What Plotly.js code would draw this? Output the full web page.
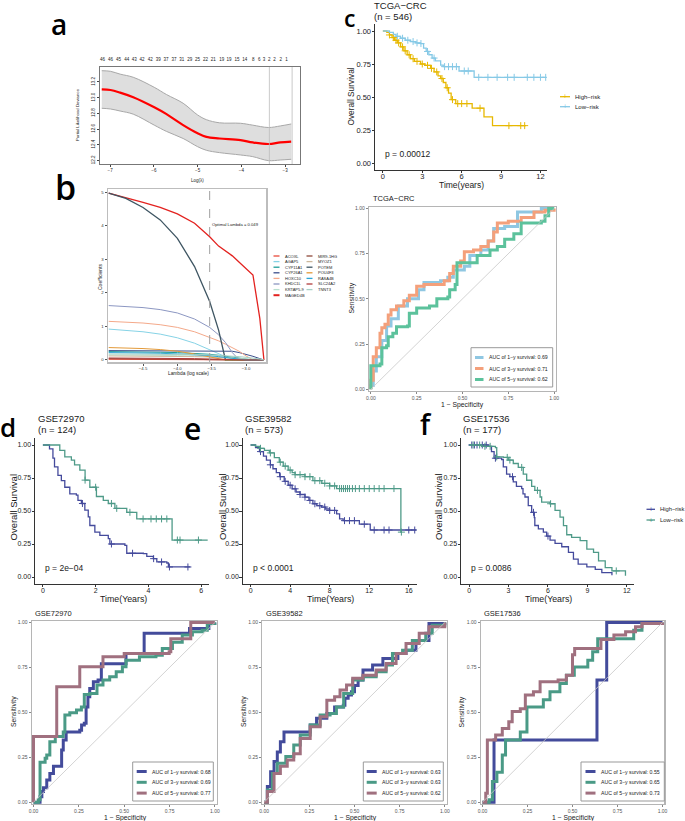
<!DOCTYPE html>
<html>
<head>
<meta charset="utf-8">
<script src="https://cdn.plot.ly/plotly-3.0.1.min.js"></script>
<style>html,body{margin:0;padding:0;background:#fff}#fig{width:685px;height:821px}</style>
</head>
<body>
<div id="fig"></div>
<script>
// ---- panel a : cross-validation curve
const lamA = [-7.19,-6.99,-6.77,-6.47,-5.99,-5.71,-5.33,-5.0,-4.8,-4.5,-4.02,-3.74,-3.38,-3.11,-2.86];
const devA = [13.107,13.098,13.064,13.005,12.877,12.79,12.65,12.546,12.50,12.48,12.46,12.43,12.41,12.43,12.44];
const upA  = [13.344,13.336,13.30,13.26,13.132,13.04,12.929,12.78,12.72,12.68,12.674,12.65,12.62,12.64,12.665];
const loA  = [12.865,12.856,12.83,12.79,12.65,12.57,12.48,12.376,12.33,12.30,12.27,12.249,12.198,12.206,12.215];
const lamTop = [-7.175,-6.99,-6.81,-6.62,-6.45,-6.27,-6.08,-5.90,-5.72,-5.54,-5.36,-5.18,-5.0,-4.82,-4.64,-4.45,-4.28,-4.10,-3.92,-3.73,-3.59,-3.48,-3.36,-3.24,-3.10,-2.97];
const nzTop = ['46','46','45','44','43','42','42','39','37','37','31','29','25','22','21','19','19','15','14','8','6','3','2','2','2','1'];
const lamMin = -3.36, lam1se = -2.84;

// ---- panel b : coefficient paths
const lamB = [-5.0,-4.75,-4.5,-4.25,-4.0,-3.75,-3.53,-3.4,-3.3,-3.2,-3.1,-3.0,-2.9,-2.8,-2.74];
const genesB = ['ACOXL','AGAP5','CYP11A1','CYP26A1','HOXC10','KHDC1L','KRTAP5-9','MAGED4B','MIR9-1HG','MYOZ1','POTEM','POU4F3','RASA4B','SLC24A2','TNNT3'];
const colorsB = ['#E8493A','#86D3E6','#1E9E98','#3C4F8C','#F4A98A','#8C97C2','#B9E0CF','#E3221F','#8E4A3A','#CDB99C','#3E5562','#E39A3A','#2BA6D6','#B03C3C','#A7D1C6'];
const coefB = [
  [0.02,0.02,0.02,0.02,0.01,0.01,0,0,0,0,0,0,0,0,0],
  [0.92,0.89,0.84,0.77,0.66,0.50,0.30,0.18,0.10,0.03,0,0,0,0,0],
  [0.25,0.25,0.24,0.23,0.22,0.20,0.17,0.14,0.11,0.08,0.05,0.02,0,0,0],
  [0.28,0.28,0.28,0.28,0.28,0.28,0.28,0.28,0.28,0.26,0.22,0.17,0.11,0.04,0],
  [1.15,1.13,1.10,1.05,0.97,0.84,0.68,0.57,0.47,0.37,0.26,0.12,0,0,0],
  [1.62,1.60,1.56,1.50,1.40,1.22,0.97,0.75,0.52,0.22,0,0,0,0,0],
  [0.15,0.15,0.14,0.14,0.13,0.12,0.11,0.09,0.08,0.06,0.04,0.02,0,0,0],
  [4.97,4.84,4.69,4.54,4.35,4.07,3.67,3.39,3.25,3.10,2.91,2.72,2.53,1.24,0],
  [0.04,0.04,0.04,0.03,0.03,0.02,0.01,0,0,0,0,0,0,0,0],
  [0.12,0.12,0.12,0.11,0.11,0.10,0.09,0.08,0.06,0.05,0.03,0.01,0,0,0],
  [4.97,4.81,4.54,4.17,3.62,2.78,1.74,0.89,0,0,0,0,0,0,0],
  [0.37,0.36,0.34,0.31,0.26,0.18,0.10,0.05,0,0,0,0,0,0,0],
  [0.22,0.22,0.21,0.20,0.18,0.16,0.13,0.10,0.07,0.04,0.01,0,0,0,0],
  [0.06,0.06,0.06,0.05,0.05,0.04,0.03,0.02,0.01,0,0,0,0,0,0],
  [0.18,0.18,0.18,0.17,0.17,0.16,0.15,0.14,0.13,0.12,0.10,0.08,0.06,0.03,0]
];
const lamOpt = -3.53;

// ---- panel c : TCGA-CRC
const cHighT = [0,0.3,0.5,0.7,0.9,1.1,1.35,1.6,1.85,2.1,2.4,2.87,3.2,3.64,3.9,4.2,4.4,4.6,4.8,5.0,5.2,5.55,6.8,7.7,8.35,10.9];
const cHighS = [1,0.99,0.97,0.95,0.93,0.91,0.88,0.85,0.82,0.79,0.77,0.75,0.74,0.717,0.69,0.66,0.64,0.61,0.57,0.53,0.48,0.45,0.415,0.35,0.283,0.283];
const cHighCens = [0.5,0.8,1.0,1.2,1.5,1.7,2.0,2.3,2.6,3.0,3.4,3.7,4.1,4.5,4.9,5.3,5.7,6.0,6.4,7.4,9.6,10.5,10.8];
const cLowT = [0,0.5,0.8,1.0,1.35,1.7,2.1,2.5,2.87,3.1,3.3,3.5,3.75,4.0,4.4,4.6,5.8,6.95,12.4];
const cLowS = [1,0.99,0.975,0.96,0.945,0.93,0.92,0.91,0.905,0.87,0.845,0.82,0.795,0.773,0.742,0.73,0.697,0.649,0.649];
const cLowCens = [1.1,1.5,1.9,2.3,2.6,2.9,3.4,3.9,4.7,5.0,5.3,5.6,6.2,6.5,7.3,8.0,8.7,9.5,10.0,11.0,11.5,12.0,12.4];
const cRoc1x = [0,0,0.013,0.03,0.06,0.086,0.11,0.15,0.2,0.26,0.29,0.38,0.42,0.45,0.51,0.54,0.6,0.64,0.67,0.73,0.8,0.93,1];
const cRoc1y = [0,0.02,0.10,0.18,0.27,0.35,0.39,0.46,0.50,0.55,0.59,0.60,0.62,0.66,0.68,0.74,0.77,0.82,0.89,0.90,0.98,1,1];
const cRoc3x = [0,0,0.013,0.03,0.05,0.06,0.077,0.095,0.11,0.14,0.18,0.21,0.25,0.29,0.36,0.40,0.43,0.45,0.49,0.51,0.56,0.60,0.64,0.67,0.69,0.75,0.82,0.89,0.95,1];
const cRoc3y = [0,0.05,0.18,0.23,0.31,0.34,0.36,0.41,0.44,0.46,0.49,0.52,0.57,0.58,0.58,0.60,0.64,0.68,0.71,0.76,0.77,0.79,0.82,0.87,0.92,0.93,0.95,0.98,0.99,1];
const cRoc5x = [0,0,0.05,0.06,0.086,0.095,0.12,0.14,0.2,0.21,0.25,0.32,0.36,0.42,0.43,0.46,0.47,0.55,0.58,0.65,0.69,0.73,0.78,0.82,0.93,0.95,0.97,1];
const cRoc5y = [0,0.13,0.14,0.23,0.24,0.29,0.31,0.345,0.35,0.42,0.45,0.46,0.50,0.51,0.55,0.58,0.70,0.70,0.74,0.77,0.79,0.83,0.86,0.92,0.93,0.96,1,1];
const cAuc = ['0.69','0.71','0.62'];

// ---- panel d : GSE72970
const dHighT = [0,0.19,0.25,0.38,0.44,0.57,0.7,0.83,1.02,1.27,1.33,1.46,1.59,1.72,1.78,1.97,2.16,2.48,2.54,3.11,3.18,3.81,3.94,4.19,4.32,4.7,4.76,5.59];
const dHighS = [1,1,0.97,0.90,0.835,0.77,0.73,0.68,0.63,0.62,0.58,0.557,0.506,0.456,0.39,0.34,0.316,0.29,0.25,0.24,0.18,0.177,0.157,0.139,0.114,0.106,0.076,0.076];
const dHighCens = [1.5,2.6,3.4,4.2,4.5,4.8,5.5];
const dLowT = [0,0.38,0.64,0.83,1.08,1.2,1.4,1.6,1.78,2.03,2.29,2.48,2.73,3.18,3.56,4.9,6.25];
const dLowS = [1,1,0.96,0.91,0.886,0.85,0.81,0.734,0.68,0.61,0.58,0.557,0.52,0.49,0.44,0.28,0.28];
const dLowCens = [1.6,2.0,2.6,2.8,3.3,3.8,4.1,4.3,4.5,4.7,5.1,5.2,5.9];
const dRoc1x = [0,0.027,0.036,0.046,0.055,0.073,0.09,0.11,0.146,0.155,0.164,0.18,0.255,0.265,0.28,0.29,0.30,0.31,0.33,0.356,0.374,0.5,0.51,0.6,0.61,0.85,0.86,0.95,0.967,1];
const dRoc1y = [0,0,0.03,0.06,0.08,0.124,0.16,0.2,0.2,0.29,0.346,0.39,0.40,0.43,0.44,0.53,0.587,0.633,0.67,0.68,0.77,0.77,0.828,0.828,0.94,0.94,0.967,0.967,0.994,1];
const dRoc3x = [0,0.027,0.036,0.064,0.073,0.09,0.12,0.164,0.173,0.2,0.237,0.264,0.28,0.31,0.35,0.383,0.42,0.456,0.49,0.51,0.584,0.675,0.71,0.766,0.82,0.876,0.93,0.958,1];
const dRoc3y = [0,0.013,0.222,0.244,0.263,0.337,0.365,0.39,0.485,0.498,0.513,0.53,0.6,0.605,0.652,0.68,0.698,0.726,0.754,0.79,0.81,0.818,0.855,0.89,0.93,0.948,0.957,0.994,1];
const dRoc5x = [0,0,0.12,0.128,0.246,0.255,0.374,0.383,0.49,0.5,0.748,0.757,0.858,0.867,1];
const dRoc5y = [0,0.365,0.365,0.643,0.643,0.754,0.754,0.81,0.81,0.828,0.837,0.91,0.91,1,1];
const dAuc = ['0.68','0.69','0.77'];

// ---- panel e : GSE39582
const eHighT = [0,0.5,0.9,1.3,1.6,2.0,2.26,2.6,2.94,3.4,3.8,4.2,4.6,5.0,5.5,5.9,6.3,6.7,7.16,7.6,8.0,8.7,9.0,9.36,11.0,12.1,16.8];
const eHighS = [1,0.98,0.95,0.915,0.885,0.85,0.82,0.79,0.76,0.725,0.695,0.668,0.644,0.625,0.605,0.58,0.555,0.54,0.53,0.515,0.504,0.478,0.44,0.427,0.40,0.356,0.356];
const eHighCens = [1.0,2.0,3.0,3.5,4.0,4.5,5.0,5.5,6.0,6.5,7.0,7.5,8.0,8.5,9.5,10.0,10.5,11.5,12.5,13.5,14.0,16.0,16.6];
const eLowT = [0,0.5,0.9,1.4,1.9,2.4,2.9,3.3,3.8,4.2,4.5,5.5,6.3,7.2,8.0,8.7,15.2,15.25];
const eLowS = [1,0.99,0.975,0.96,0.94,0.905,0.87,0.84,0.81,0.79,0.775,0.76,0.73,0.71,0.69,0.67,0.34,0.34];
const eLowCens = [1.0,2.0,3.0,3.5,4.0,4.5,5.0,5.5,6.0,6.5,7.0,7.5,8.0,8.5,9.0,9.2,9.4,9.6,9.8,10.0,10.3,10.6,11.0,11.5,12.0,12.5,13.0,13.5,14.5,15.25];
const eRoc1x = [0,0.018,0.036,0.055,0.073,0.09,0.11,0.237,0.255,0.29,0.347,0.383,0.39,0.438,0.447,0.465,0.483,0.5,0.52,0.547,0.584,0.6,0.657,0.73,0.74,0.785,0.84,0.894,0.912,1];
const eRoc1y = [0,0.087,0.17,0.226,0.28,0.337,0.39,0.39,0.43,0.467,0.494,0.494,0.53,0.54,0.578,0.596,0.615,0.65,0.68,0.735,0.735,0.763,0.8,0.8,0.828,0.846,0.9,0.9,0.994,1];
const eRoc3x = [0,0.018,0.046,0.073,0.12,0.164,0.2,0.255,0.31,0.365,0.4,0.44,0.49,0.547,0.62,0.675,0.71,0.766,0.82,0.894,0.93,1];
const eRoc3y = [0,0.068,0.16,0.217,0.254,0.318,0.374,0.43,0.485,0.494,0.53,0.605,0.68,0.698,0.726,0.763,0.828,0.846,0.9,0.94,0.985,1];
const eRoc5x = [0,0.018,0.055,0.09,0.128,0.164,0.2,0.255,0.31,0.347,0.39,0.42,0.456,0.49,0.547,0.62,0.675,0.73,0.785,0.858,0.912,1];
const eRoc5y = [0,0.06,0.16,0.2,0.235,0.27,0.355,0.42,0.476,0.568,0.587,0.624,0.652,0.69,0.707,0.735,0.772,0.828,0.883,0.94,0.976,1];
const eAuc = ['0.63','0.63','0.62'];

// ---- panel f : GSE17536
const fHighT = [0,1.45,1.7,1.9,2.47,2.6,2.85,3.1,3.36,3.6,4.0,4.1,4.25,4.5,4.76,4.96,5.0,5.27,5.65,5.9,6.16,6.54,7.05,7.56,7.94,8.3,8.96,9.6,10.1,10.87];
const fHighS = [1,0.99,0.95,0.90,0.89,0.835,0.78,0.76,0.72,0.687,0.67,0.63,0.606,0.54,0.49,0.45,0.39,0.364,0.34,0.31,0.28,0.254,0.229,0.186,0.135,0.097,0.076,0.058,0.033,0.013];
const fHighCens = [0.2,0.4,0.6,1.0,1.3,2.0,3.3,4.9,6.0];
const fLowT = [0,0.94,2.0,2.1,2.6,2.98,3.36,3.74,4.12,4.38,4.76,5.0,5.4,5.52,6.16,6.54,6.92,7.18,7.43,7.8,8.45,8.96,9.47,9.85,10.36,10.87,11.9,11.9];
const fLowS = [1,0.99,0.98,0.91,0.906,0.886,0.86,0.83,0.78,0.733,0.687,0.656,0.606,0.567,0.555,0.504,0.453,0.389,0.32,0.30,0.275,0.211,0.186,0.122,0.071,0.046,0.046,0.01];
const fLowCens = [0.3,0.8,1.2,1.6,2.1,2.9,3.1,4.0,5.2,6.2,11.2];
const fRoc1x = [0,0.064,0.064,0.63,0.636,0.686,0.69,1];
const fRoc1y = [0,0,0.346,0.346,0.68,0.68,1,1];
const fRoc3x = [0,0.037,0.055,0.08,0.11,0.128,0.2,0.21,0.247,0.338,0.375,0.43,0.466,0.51,0.585,0.612,0.64,0.81,0.84,0.886,1];
const fRoc3y = [0,0.013,0.115,0.167,0.263,0.346,0.346,0.39,0.53,0.57,0.615,0.66,0.707,0.753,0.79,0.837,0.91,0.91,0.957,0.994,1];
const fRoc5x = [0,0.018,0.027,0.073,0.11,0.146,0.165,0.21,0.238,0.283,0.32,0.42,0.466,0.5,0.512,0.63,0.658,0.73,0.795,0.85,0.886,1];
const fRoc5y = [0,0.05,0.346,0.374,0.41,0.448,0.505,0.52,0.596,0.615,0.67,0.68,0.707,0.82,0.855,0.855,0.905,0.93,0.948,0.976,0.994,1];
const fAuc = ['0.55','0.65','0.73'];

const rocYears = ['1', '3', '5'];
const groups = ['High−risk', 'Low−risk'];

// colours
const GOLD = '#E7B800', SKY = '#86C9E6';
const NAVY = '#444A9C', TEAL = '#4E9A88';
const cRocCols = ['#8FC7E2', '#F4A07B', '#5CC29C'];
const gRocCols = ['#434B9B', '#4A9A86', '#A0707F'];

const FONT = 'Liberation Sans, Arial, sans-serif';
const W = 685, H = 821;
const px = v => v / W, py = v => 1 - v / H;

const traces = [], shapes = [], annotations = [];
const layout = {
  width: W, height: H, margin: {l: 0, r: 0, t: 0, b: 0},
  paper_bgcolor: '#fff', plot_bgcolor: 'rgba(0,0,0,0)',
  showlegend: false, font: {family: FONT}
};

function ax(n) { return n === 1 ? '' : String(n); }

function addLine(x, y, n, color, width, shape) {
  traces.push({x, y, xaxis: 'x' + ax(n), yaxis: 'y' + ax(n), type: 'scatter', mode: 'lines',
    line: {color, width, shape: shape || 'linear'}, hoverinfo: 'skip', showlegend: false});
}

function survAt(ts, ss, t) {
  let s = ss[0];
  for (let i = 0; i < ts.length; i++) if (ts[i] <= t) s = ss[i];
  return s;
}

function addKM(ts, ss, cens, n, color) {
  addLine(ts, ss, n, color, 1.3, 'hv');
  traces.push({x: cens, y: cens.map(t => survAt(ts, ss, t)), xaxis: 'x' + ax(n), yaxis: 'y' + ax(n),
    type: 'scatter', mode: 'markers', hoverinfo: 'skip', showlegend: false,
    marker: {symbol: 'cross-thin', size: 5, color, line: {width: 1, color}}});
}

function txt(x, y, t, size, extra) {
  annotations.push(Object.assign({xref: 'paper', yref: 'paper', x: px(x), y: py(y), text: t, showarrow: false,
    xanchor: 'left', yanchor: 'middle', font: {family: FONT, size, color: '#1a1a1a'}}, extra || {}));
}

function vtxt(x, y, t, size) {
  txt(x, y, t, size, {xanchor: 'center', textangle: -90});
}

function setAxes(n, x0, x1, y0, y1, xopt, yopt) {
  layout['xaxis' + ax(n)] = Object.assign({domain: [px(x0), px(x1)], anchor: 'y' + ax(n),
    showgrid: false, zeroline: false, fixedrange: true}, xopt);
  layout['yaxis' + ax(n)] = Object.assign({domain: [py(y1), py(y0)], anchor: 'x' + ax(n),
    showgrid: false, zeroline: false, fixedrange: true}, yopt);
}

function kmStyle(range, vals, size) {
  return {range, tickvals: vals, ticks: 'outside', ticklen: 2.5, tickcolor: '#333', tickwidth: 1,
    ticklabelstandoff: -3,
    showline: true, linecolor: '#333', linewidth: 1, tickfont: {family: FONT, size: size || 7, color: '#222'}};
}

function rocStyle() {
  return {range: [-0.01, 1.01], tickvals: [0, 0.25, 0.5, 0.75, 1], tickformat: '.2f', ticks: 'outside',
    ticklen: 2, tickcolor: '#888', showline: true, mirror: true, linecolor: '#b5b5b5', linewidth: 1.2,
    tickfont: {family: FONT, size: 5, color: '#555'}};
}

function legendRows(items, x0, y0, dy, seg, size, width, plus) {
  items.forEach((it, i) => {
    const yy = y0 + i * dy;
    shapes.push({type: 'line', xref: 'paper', yref: 'paper', x0: px(x0), x1: px(x0 + seg), y0: py(yy), y1: py(yy),
      line: {color: it.color, width: it.width || width}});
    if (plus) txt(x0 + seg / 2, yy, '+', size + 1, {xanchor: 'center', font: {family: FONT, size: size + 1, color: it.color}});
    txt(x0 + seg + 3, yy, it.name, size);
  });
}

function box(x0, y0, x1, y1) {
  shapes.push({type: 'rect', xref: 'paper', yref: 'paper', x0: px(x0), x1: px(x1), y0: py(y1), y1: py(y0),
    line: {color: '#999', width: 1}, fillcolor: '#fff'});
}

// ================= panel a
setAxes(1, 100, 300, 67, 164,
  {range: [-7.23, -2.66], tickvals: [-7, -6, -5, -4, -3], ticks: 'outside', ticklen: 2, tickcolor: '#444',
   showline: true, mirror: true, linecolor: '#777', linewidth: 1, tickfont: {family: FONT, size: 4.5, color: '#222'}},
  {range: [12.155, 13.391], tickvals: [12.2, 12.4, 12.6, 12.8, 13.0, 13.2], tickformat: '.1f', tickangle: -90,
   ticks: 'outside', ticklen: 2, tickcolor: '#444', showline: true, mirror: true, linecolor: '#777', linewidth: 1,
   tickfont: {family: FONT, size: 4.5, color: '#222'}});
layout.xaxis2 = {overlaying: 'x', side: 'top', anchor: 'y', range: [-7.23, -2.66], tickvals: lamTop, ticktext: nzTop,
  tickangle: 0, ticks: 'outside', ticklen: 3, tickcolor: 'rgba(0,0,0,0)', showline: false, showgrid: false, zeroline: false,
  tickfont: {family: FONT, size: 4.5, color: '#222'}, fixedrange: true};
traces.push({x: lamA, y: loA, xaxis: 'x', yaxis: 'y', type: 'scatter', mode: 'lines',
  line: {color: '#a8a8a8', width: 1, shape: 'spline'}, hoverinfo: 'skip', showlegend: false});
traces.push({x: lamA, y: upA, xaxis: 'x', yaxis: 'y', type: 'scatter', mode: 'lines', fill: 'tonexty',
  fillcolor: '#dedede', line: {color: '#a8a8a8', width: 1, shape: 'spline'}, hoverinfo: 'skip', showlegend: false});
traces.push({x: lamA, y: devA, xaxis: 'x', yaxis: 'y', type: 'scatter', mode: 'lines',
  line: {color: '#f00', width: 2.2, shape: 'spline'}, hoverinfo: 'skip', showlegend: false});
traces.push({x: [lamTop[0]], y: [null], xaxis: 'x2', yaxis: 'y', type: 'scatter', mode: 'lines', showlegend: false, hoverinfo: 'skip'});
[lamMin, lam1se].forEach(v => shapes.push({type: 'line', xref: 'x', yref: 'y domain', x0: v, x1: v, y0: 0, y1: 1,
  line: {color: '#bdbdbd', width: 0.8}}));
vtxt(78, 115, 'Partial Likelihood Deviance', 4.3);
txt(197, 180, 'Log(λ)', 4.5, {xanchor: 'center'});

// ================= panel b
setAxes(3, 108, 266, 189, 362,
  {range: [-5.01, -2.71], tickvals: [-4.5, -4, -3.5, -3], tickformat: '.1f', ticks: 'outside', ticklen: 2,
   tickcolor: '#555', showline: true, mirror: true, linecolor: '#bdbdbd', linewidth: 1.5, ticklabelstandoff: -1,
   tickfont: {family: FONT, size: 4.3, color: '#333'}},
  {range: [-0.06, 5.09], tickvals: [0, 1, 2, 3, 4, 5], ticks: 'outside', ticklen: 2, tickcolor: '#555',
   showline: true, mirror: true, linecolor: '#bdbdbd', linewidth: 1.5, tickfont: {family: FONT, size: 4.3, color: '#333'}});
genesB.forEach((g, i) => addLine(lamB, coefB[i], 3, colorsB[i], (g === 'MAGED4B' || g === 'POTEM') ? 1.3 : 1));
shapes.push({type: 'line', xref: 'x3', yref: 'y3 domain', x0: lamOpt, x1: lamOpt, y0: 0, y1: 1,
  line: {color: '#a0a0a0', width: 1, dash: 'dash'}});
annotations.push({xref: 'x3', yref: 'y3', x: lamOpt, y: 4.02, text: 'Optimal Lambda = 0.049', showarrow: false,
  xanchor: 'left', yanchor: 'middle', font: {family: FONT, size: 4.2, color: '#222'}});
vtxt(100, 276, 'Coefficients', 5);
txt(188, 373, 'Lambda (log scale)', 4.8, {xanchor: 'center'});
legendRows(genesB.slice(0, 8).map((g, i) => ({name: g, color: colorsB[i], width: g === 'MAGED4B' ? 2 : 1.3})),
  273.5, 256, 5.6, 6, 4, 1.3);
legendRows(genesB.slice(8).map((g, i) => ({name: g, color: colorsB[i + 8]})), 306.5, 256, 5.6, 6, 4, 1.3);

// ================= panel c (KM)
setAxes(4, 375, 547, 24.4, 169.6,
  kmStyle([-0.6, 12.5], [0, 3, 6, 9, 12], 7.5),
  Object.assign(kmStyle([-0.05, 1.05], [0, 0.25, 0.5, 0.75, 1], 7.5), {tickformat: '.2f', ticklabelstandoff: -1}));
addKM(cHighT, cHighS, cHighCens, 4, GOLD);
addKM(cLowT, cLowS, cLowCens, 4, SKY);
txt(372, 6, 'TCGA−CRC', 9.5);
txt(372, 17, '(n = 546)', 9.5);
vtxt(350.5, 97, 'Overall Survival', 8.3);
txt(461, 185, 'Time(years)', 8.5, {xanchor: 'center'});
annotations.push({xref: 'x4', yref: 'y4', x: 0, y: 0.07, text: 'p = 0.00012', showarrow: false, xanchor: 'left',
  yanchor: 'middle', font: {family: FONT, size: 8.5, color: '#1a1a1a'}});
legendRows([{name: groups[0], color: GOLD}, {name: groups[1], color: SKY}], 560, 96.7, 10, 10, 6, 1.3, true);

// ================= panel c (ROC)
setAxes(5, 369, 556, 206.7, 391, rocStyle(), rocStyle());
shapes.push({type: 'line', xref: 'x5', yref: 'y5', x0: 0, y0: 0, x1: 1, y1: 1, line: {color: '#c8c8c8', width: 0.8}});
addLine(cRoc1x, cRoc1y, 5, cRocCols[0], 3, 'hv');
addLine(cRoc3x, cRoc3y, 5, cRocCols[1], 3, 'hv');
addLine(cRoc5x, cRoc5y, 5, cRocCols[2], 3, 'hv');
txt(371, 198.5, 'TCGA−CRC', 7.5);
vtxt(351.5, 298, 'Sensitivity', 6.8);
txt(462, 405, '1 − Specificity', 6.8, {xanchor: 'center'});
box(471, 347.7, 552.7, 387);
legendRows(rocYears.map((y, i) => ({name: 'AUC of ' + y + '−y survival: ' + cAuc[i], color: cRocCols[i]})),
  475, 357.5, 11, 8.5, 5.2, 3);

// ================= bottom KM panels
const kmY = [438.4, 583.6];
const kmYaxis = () => Object.assign(kmStyle([-0.05, 1.05], [0, 0.25, 0.5, 0.75, 1]), {tickformat: '.2f', ticklabelstandoff: -1});
setAxes(6, 35, 209, kmY[0], kmY[1], kmStyle([-0.3, 6.3], [0, 2, 4, 6]), kmYaxis());
setAxes(7, 242.7, 416.7, kmY[0], kmY[1], kmStyle([-0.8, 16.8], [0, 4, 8, 12, 16]), kmYaxis());
setAxes(8, 461, 634, kmY[0], kmY[1], kmStyle([-0.62, 12.55], [0, 3, 6, 9, 12]), kmYaxis());
addKM(dHighT, dHighS, dHighCens, 6, NAVY);
addKM(dLowT, dLowS, dLowCens, 6, TEAL);
addKM(eHighT, eHighS, eHighCens, 7, NAVY);
addKM(eLowT, eLowS, eLowCens, 7, TEAL);
addKM(fHighT, fHighS, fHighCens, 8, NAVY);
addKM(fLowT, fLowS, fLowCens, 8, TEAL);

const kmPanels = [
  {n: 6, title: 'GSE72970', cnt: '(n = 124)', p: 'p = 2e−04', tx: 36, yt: 12.5, xt: 123},
  {n: 7, title: 'GSE39582', cnt: '(n = 573)', p: 'p < 0.0001', tx: 243, yt: 222, xt: 330},
  {n: 8, title: 'GSE17536', cnt: '(n = 177)', p: 'p = 0.0086', tx: 461, yt: 438, xt: 548}
];
kmPanels.forEach(k => {
  txt(k.tx, 418, k.title, 9.5);
  txt(k.tx, 429.5, k.cnt, 9.5);
  vtxt(k.yt, 507, 'Overall Survival', 9.5);
  txt(k.xt, 599, 'Time(Years)', 8.8, {xanchor: 'center'});
  annotations.push({xref: 'x' + k.n, yref: 'y' + k.n, x: 0, y: 0.07, text: k.p, showarrow: false, xanchor: 'left',
    yanchor: 'middle', font: {family: FONT, size: 8.5, color: '#1a1a1a'}});
});
legendRows([{name: groups[0], color: NAVY}, {name: groups[1], color: TEAL}], 646.5, 509.3, 10.7, 8.5, 5.8, 1.3, true);

// ================= bottom ROC panels
const rocY = [620.7, 804];
const rocPanels = [
  {n: 9, x0: 31.7, x1: 216.7, title: 'GSE72970', auc: dAuc, xs: [dRoc1x, dRoc3x, dRoc5x], ys: [dRoc1y, dRoc3y, dRoc5y],
   lb: [132.7, 213.3, 136.7], yt: 13.3, xt: 125},
  {n: 10, x0: 262.3, x1: 446.7, title: 'GSE39582', auc: eAuc, xs: [eRoc1x, eRoc3x, eRoc5x], ys: [eRoc1y, eRoc3y, eRoc5y],
   lb: [363.3, 443.3, 366.7], yt: 243.3, xt: 355},
  {n: 11, x0: 480.7, x1: 664.3, title: 'GSE17536', auc: fAuc, xs: [fRoc1x, fRoc3x, fRoc5x], ys: [fRoc1y, fRoc3y, fRoc5y],
   lb: [581, 664.3, 585.5], yt: 461.7, xt: 573}
];
rocPanels.forEach(r => {
  setAxes(r.n, r.x0, r.x1, rocY[0], rocY[1], rocStyle(), rocStyle());
  shapes.push({type: 'line', xref: 'x' + r.n, yref: 'y' + r.n, x0: 0, y0: 0, x1: 1, y1: 1,
    line: {color: '#c8c8c8', width: 0.8}});
  r.xs.forEach((xs, i) => addLine(xs, r.ys[i], r.n, gRocCols[i], 3, 'hv'));
  txt(r.x0 + 1.5, 613.3, r.title, 7.5);
  vtxt(r.yt, 711.7, 'Sensitivity', 6.8);
  txt(r.xt, 817.5, '1 − Specificity', 6.8, {xanchor: 'center'});
  box(r.lb[0], 762, r.lb[1], 801);
  legendRows(rocYears.map((y, i) => ({name: 'AUC of ' + y + '−y survival: ' + r.auc[i], color: gRocCols[i]})),
    r.lb[2], 771.5, 10.8, 10, 5.2, 3);
});

// ================= panel letters
const letters = [['a', 59, 24, 28, 'middle'], ['b', 65, 187, 34, 'middle'], ['c', 349, 0, 23, 'top'],
  ['d', 8, 427, 26, 'middle'], ['e', 192, 428, 30, 'middle'], ['f', 426, 424, 28, 'middle']];
letters.forEach(l => txt(l[1], l[2], l[0], l[3],
  {xanchor: 'center', yanchor: l[4], font: {family: 'Open Sans, Noto Sans, sans-serif', size: l[3], color: '#000', weight: 600}}));

layout.shapes = shapes;
layout.annotations = annotations;
Plotly.newPlot('fig', traces, layout, {staticPlot: true, displayModeBar: false});
</script>
</body>
</html>
